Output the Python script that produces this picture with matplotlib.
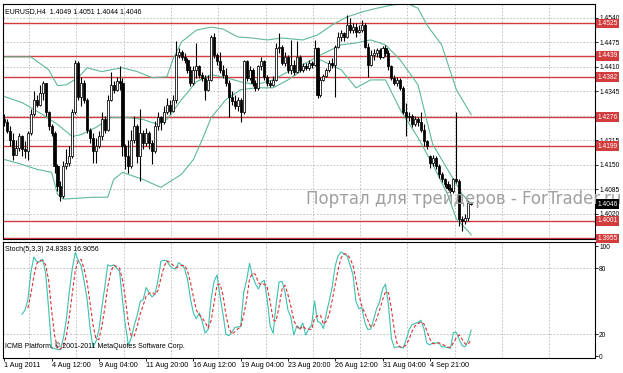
import numpy as np
import pandas as pd
import matplotlib
matplotlib.use('Agg')
import matplotlib.pyplot as plt

# EURUSD H4 bars, open = previous close (except weekend gap)
close = [1.4263,1.4239,1.4217,1.4177,1.4195,1.4226,1.4191,1.4186,1.4235,1.4285,
         1.4323,1.4309,1.4340,1.4367,1.4289,1.4252,1.4235,1.4147,1.4094,1.4068,
         1.4147,1.4155,1.4173,1.4289,1.4419,1.4331,1.4367,1.4323,1.4243,1.4221,
         1.4186,1.4199,1.4226,1.4271,1.4243,1.4323,1.4362,1.4349,1.4371,1.4367,
         1.4199,1.4173,1.4147,1.4217,1.4252,1.4173,1.4235,1.4208,1.4235,1.4208,
         1.4186,1.4252,1.4276,1.4263,1.4289,1.4309,1.4293,1.4323,1.4441,1.4450,
         1.4437,1.4428,1.4402,1.4367,1.4402,1.4411,1.4389,1.4380,1.4349,1.4375,
         1.4490,1.4441,1.4424,1.4402,1.4389,1.4367,1.4331,1.4318,1.4305,1.4323,
         1.4289,1.4424,1.4380,1.4402,1.4367,1.4353,1.4411,1.4424,1.4384,1.4367,
         1.4362,1.4375,1.4459,1.4463,1.4419,1.4437,1.4402,1.4415,1.4397,1.4437,
         1.4402,1.4411,1.4406,1.4419,1.4415,1.4459,1.4336,1.4375,1.4386,1.4400,
         1.4419,1.4415,1.4463,1.4490,1.4499,1.4490,1.4521,1.4507,1.4516,1.4503,
         1.4507,1.4521,1.4463,1.4415,1.4441,1.4446,1.4455,1.4437,1.4459,1.4446,
         1.4411,1.4380,1.4368,1.4375,1.4353,1.4289,1.4276,1.4280,1.4258,1.4271,
         1.4263,1.4243,1.4213,1.4199,1.4155,1.4169,1.4147,1.4125,1.4111,1.4098,
         1.4089,1.4081,1.4111,1.4107,1.4006,1.4001,1.4010,1.4049,1.4046]
high = [1.4285,1.4271,1.4252,1.4235,1.4217,1.4235,1.4230,1.4213,1.4239,1.4298,
        1.4345,1.4336,1.4362,1.4371,1.4367,1.4293,1.4258,1.4239,1.4151,1.4107,
        1.4160,1.4191,1.4199,1.4298,1.4428,1.4424,1.4384,1.4375,1.4327,1.4248,
        1.4235,1.4221,1.4239,1.4289,1.4280,1.4336,1.4397,1.4371,1.4384,1.4411,
        1.4380,1.4204,1.4217,1.4243,1.4280,1.4258,1.4298,1.4243,1.4248,1.4239,
        1.4217,1.4267,1.4289,1.4280,1.4305,1.4327,1.4323,1.4336,1.4477,1.4459,
        1.4455,1.4446,1.4433,1.4411,1.4411,1.4472,1.4415,1.4397,1.4389,1.4389,
        1.4494,1.4499,1.4446,1.4450,1.4415,1.4406,1.4375,1.4345,1.4336,1.4331,
        1.4327,1.4428,1.4428,1.4411,1.4406,1.4375,1.4415,1.4437,1.4428,1.4389,
        1.4375,1.4386,1.4472,1.4499,1.4468,1.4450,1.4441,1.4481,1.4428,1.4477,
        1.4441,1.4419,1.4421,1.4427,1.4424,1.4481,1.4463,1.4383,1.4391,1.4406,
        1.4428,1.4433,1.4468,1.4503,1.4507,1.4503,1.4547,1.4538,1.4525,1.4525,
        1.4521,1.4534,1.4525,1.4472,1.4455,1.4456,1.4459,1.4459,1.4465,1.4468,
        1.4455,1.4415,1.4389,1.4383,1.4380,1.4358,1.4314,1.4289,1.4285,1.4280,
        1.4276,1.4289,1.4258,1.4217,1.4177,1.4177,1.4173,1.4151,1.4131,1.4116,
        1.4107,1.4098,1.4116,1.4289,1.4111,1.4015,1.4019,1.4054,1.4051]
low = [1.4252,1.4235,1.4199,1.4164,1.4177,1.4186,1.4173,1.4169,1.4164,1.4230,
       1.4280,1.4302,1.4305,1.4323,1.4280,1.4243,1.4226,1.4129,1.4081,1.4054,
       1.4063,1.4138,1.4147,1.4169,1.4285,1.4323,1.4305,1.4314,1.4235,1.4208,
       1.4155,1.4155,1.4195,1.4217,1.4235,1.4239,1.4318,1.4340,1.4345,1.4349,
       1.4173,1.4138,1.4129,1.4142,1.4208,1.4155,1.4107,1.4191,1.4199,1.4191,
       1.4151,1.4182,1.4243,1.4243,1.4258,1.4285,1.4285,1.4289,1.4314,1.4433,
       1.4428,1.4419,1.4393,1.4358,1.4362,1.4380,1.4380,1.4371,1.4323,1.4345,
       1.4371,1.4433,1.4415,1.4393,1.4380,1.4358,1.4276,1.4309,1.4298,1.4293,
       1.4263,1.4285,1.4371,1.4375,1.4358,1.4345,1.4349,1.4402,1.4375,1.4358,
       1.4356,1.4360,1.4371,1.4446,1.4415,1.4411,1.4393,1.4391,1.4389,1.4393,
       1.4397,1.4397,1.4400,1.4400,1.4406,1.4411,1.4327,1.4331,1.4371,1.4383,
       1.4397,1.4406,1.4331,1.4459,1.4477,1.4477,1.4485,1.4499,1.4499,1.4490,
       1.4499,1.4503,1.4459,1.4384,1.4411,1.4428,1.4435,1.4430,1.4433,1.4439,
       1.4402,1.4375,1.4362,1.4360,1.4347,1.4285,1.4226,1.4265,1.4250,1.4252,
       1.4254,1.4236,1.4199,1.4192,1.4142,1.4147,1.4138,1.4116,1.4104,1.4092,
       1.4083,1.4075,1.4076,1.4103,1.3988,1.3975,1.3993,1.4001,1.4044]
first_open = 1.4271
gap_bar, gap_open = 144, 1.4173

# Bollinger-type envelope lines (bar index, price)
upper_x = [0,9,15,18,21,25,28,33,36,40,45,50,55,57,60,65,70,74,79,84,89,94,101,106,111,116,121,126,131,136,140,143,148,153,158]
upper_y = [1.4436,1.4436,1.4402,1.4360,1.4362,1.4381,1.4407,1.4397,1.4402,1.4407,1.4397,1.4381,1.4383,1.4428,1.4476,
           1.4507,1.4515,1.4510,1.4489,1.4486,1.4481,1.4486,1.4481,1.4494,1.4521,1.4542,1.4555,1.4565,1.4573,1.4579,
           1.4565,1.4521,1.4468,1.4349,1.4283]
mid_x = [0,6,13,18,23,26,31,36,42,47,52,55,60,65,70,75,80,85,91,96,101,107,114,119,124,129,134,140,145,150,155,158]
mid_y = [1.4331,1.4315,1.4283,1.4257,1.4225,1.4230,1.4249,1.4275,1.4275,1.4270,1.4257,1.4270,1.4323,1.4370,1.4389,
         1.4381,1.4370,1.4362,1.4375,1.4397,1.4415,1.4441,1.4468,1.4473,1.4481,1.4468,1.4428,1.4362,1.4204,1.4138,
         1.4072,1.4046]
lower_x = [0,6,11,16,18,20,30,35,37,40,47,53,60,64,67,70,75,80,85,91,96,101,107,114,119,124,129,134,140,145,150,153,157,158]
lower_y = [1.4164,1.4151,1.4138,1.4130,1.4072,1.4059,1.4064,1.4064,1.4111,1.4130,1.4111,1.4090,1.4125,1.4164,1.4217,
           1.4275,1.4323,1.4349,1.4354,1.4354,1.4375,1.4402,1.4428,1.4402,1.4354,1.4375,1.4375,1.4296,1.4222,1.4151,
           1.4072,1.4006,1.3974,1.3964]

levels = [1.4525, 1.4439, 1.4382, 1.4276, 1.4199, 1.4001, 1.3955]
price_ticks = [1.4540, 1.4475, 1.4410, 1.4345, 1.4215, 1.4150, 1.4085, 1.4020]
time_labels = ['1 Aug 2011', '4 Aug 12:00', '9 Aug 04:00', '11 Aug 20:00', '16 Aug 12:00',
               '19 Aug 04:00', '23 Aug 20:00', '26 Aug 12:00', '31 Aug 04:00', '4 Sep 21:00']

df = pd.DataFrame({'close': close, 'high': high, 'low': low})
df['open'] = df['close'].shift(1)
df.loc[0, 'open'] = first_open
df.loc[gap_bar, 'open'] = gap_open
n = len(df)
x = np.arange(n)

# Stochastic 5,3,3 (MT4 style)
ll = df['low'].rolling(5).min()
hh = df['high'].rolling(5).max()
k_main = (df['close'] - ll).rolling(3).sum() / (hh - ll).rolling(3).sum() * 100
k_sig = k_main.rolling(3).mean()

RED = '#d23c3c'
GRID = '#b8b8b8'
SMALL = 4.8
plt.rcParams['font.family'] = ['Liberation Sans', 'DejaVu Sans']
fig = plt.figure(figsize=(6.23, 3.73), dpi=100)
ax = fig.add_axes([0.005, 0.359, 0.950, 0.630])
ax2 = fig.add_axes([0.005, 0.040, 0.950, 0.311])

xmin, xmax = -0.4, 199.9
vgrid = np.arange(8.4, xmax, 16)

# price pane
ax.set_xlim(xmin, xmax)
ax.set_ylim(1.3953, 1.4576)
for t in price_ticks + [1.4280, 1.3955]:
    ax.axhline(t, color=GRID, lw=0.6, ls=(0, (2, 2)), zorder=0)
for v in vgrid:
    ax.axvline(v, color=GRID, lw=0.6, ls=(0, (2, 2)), zorder=0)
for lv in levels:
    ax.axhline(lv, color=RED, lw=1.0, zorder=1)

ax.plot(upper_x, upper_y, color='#5fb898', lw=0.8, zorder=2)
ax.plot(mid_x, mid_y, color='#5fb898', lw=0.8, zorder=2)
ax.plot(lower_x, lower_y, color='#5fb898', lw=0.8, zorder=2)

up = df['close'] >= df['open']
ax.vlines(x, df['low'], df['high'], color='black', lw=0.8, zorder=3)
body_lo = np.minimum(df['open'], df['close'])
body_h = np.maximum((df['close'] - df['open']).abs(), 0.00005)
ax.bar(x[up], body_h[up], bottom=body_lo[up], width=0.7, color='white', edgecolor='black', lw=0.55, zorder=4)
ax.bar(x[~up], body_h[~up], bottom=body_lo[~up], width=0.7, color='black', edgecolor='black', lw=0.55, zorder=4)

ax.text(0.004, 0.985, 'EURUSD,H4  1.4049 1.4051 1.4044 1.4046', transform=ax.transAxes,
        fontsize=5, va='top', ha='left')
ax.text(0.512, 0.17, 'Портал для трейдеров - ForTrader.ru', transform=ax.transAxes,
        fontsize=12, color='#a0a0a0', va='center', ha='left', clip_on=False, zorder=5,
        family='DejaVu Sans')

ax.set_xticks([])
ax.yaxis.tick_right()
ax.set_yticks(price_ticks)
ax.set_yticklabels(['%.4f' % t for t in price_ticks])
ax.tick_params(axis='y', labelsize=SMALL, length=2, width=0.6, pad=1)
for sp in ax.spines.values():
    sp.set_linewidth(0.8)

# labels of levels and current price on the right scale
for lv in levels:
    ax.text(1.004, lv, '%.4f' % lv, transform=ax.get_yaxis_transform(), fontsize=SMALL,
            color='white', va='center', ha='left', clip_on=False, zorder=6,
            bbox=dict(boxstyle='square,pad=0.2', fc=RED, ec='none'))
ax.text(1.004, close[-1], '%.4f' % close[-1], transform=ax.get_yaxis_transform(), fontsize=SMALL,
        color='white', va='center', ha='left', clip_on=False, zorder=6,
        bbox=dict(boxstyle='square,pad=0.2', fc='black', ec='none'))

# stochastic pane
ax2.set_xlim(xmin, xmax)
ax2.set_ylim(-1.8, 103.6)
for v in vgrid:
    ax2.axvline(v, color=GRID, lw=0.6, ls=(0, (2, 2)), zorder=0)
for lv in [20, 80]:
    ax2.axhline(lv, color=GRID, lw=0.6, ls=(0, (2, 2)), zorder=0)
ax2.plot(x, k_main, color='#3cc0b0', lw=0.8)
ax2.plot(x, k_sig, color='#e03030', lw=0.8, ls=(0, (3, 2)))
ax2.text(0.004, 0.97, 'Stoch(5,3,3) 24.8383 16.9056', transform=ax2.transAxes,
         fontsize=5, va='top', ha='left')
ax2.text(0.004, 0.1, 'ICMB Platform, © 2001-2011 MetaQuotes Software Corp.', transform=ax2.transAxes,
         fontsize=5, va='center', ha='left')
ax2.yaxis.tick_right()
ax2.set_yticks([0, 20, 80, 100])
ax2.tick_params(axis='y', labelsize=SMALL, length=2, width=0.6, pad=1)
ax2.set_xticks(np.arange(0, 145, 16))
ax2.set_xticklabels(time_labels, ha='left')
ax2.tick_params(axis='x', labelsize=5.2, length=2, width=0.6, pad=1)
for sp in ax2.spines.values():
    sp.set_linewidth(0.8)

fig.savefig('out.png', dpi=100)
